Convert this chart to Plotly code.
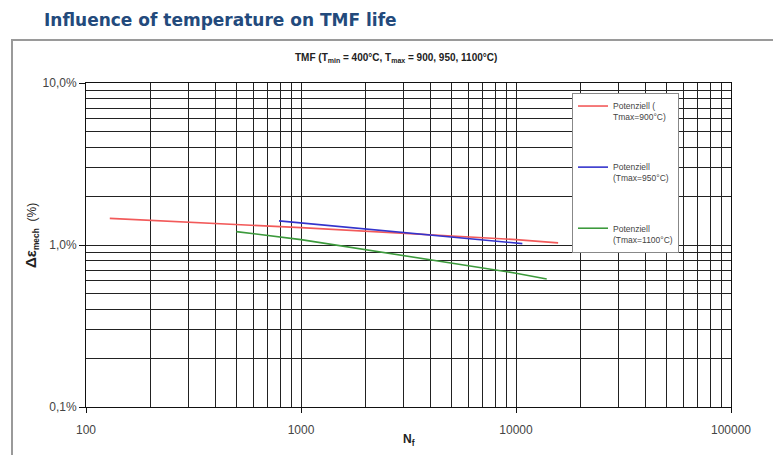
import plotly.graph_objects as go

# ---- data ----
red_x = [129, 1000, 10000, 15700]
red_y = [1.46, 1.28, 1.08, 1.03]
blue_x = [790, 1000, 10700]
blue_y = [1.41, 1.37, 1.02]
green_x = [500, 1000, 10000, 13900]
green_y = [1.21, 1.08, 0.67, 0.617]

names = ["Potenziell (<br>Tmax=900°C)", "Potenziell<br>(Tmax=950°C)", "Potenziell<br>(Tmax=1100°C)"]
colors = ["#f25a5a", "#3434cc", "#3c9a3c"]

x_tickvals = [100, 1000, 10000, 100000]
x_ticktext = ["100", "1000", "10000", "100000"]
y_tickvals = [0.1, 1, 10]
y_ticktext = ["0,1%", "1,0%", "10,0%"]

FONT = "Arial, Liberation Sans, sans-serif"

fig = go.Figure()
for i, (xs, ys) in enumerate([(red_x, red_y), (blue_x, blue_y), (green_x, green_y)]):
    fig.add_trace(go.Scatter(x=xs, y=ys, mode="lines", name=names[i],
                             line=dict(color=colors[i], width=1.6),
                             legendgroup=f"g{i}"))

W, H = 773, 455
L, R, T, B = 86, 42, 83, 48
pw, ph = W - L - R, H - T - B

grid = "#222222"
fig.update_layout(
    width=W, height=H,
    margin=dict(l=L, r=R, t=T, b=B),
    paper_bgcolor="white", plot_bgcolor="white",
    font=dict(family=FONT, color="#333333"),
    showlegend=True,
    legend=dict(x=(572 - L) / pw, y=(H - B - 93) / ph, xanchor="left", yanchor="top",
                bgcolor="white", bordercolor="#888888", borderwidth=1,
                font=dict(size=8.5, color="#444444", family=FONT),
                traceorder="grouped", tracegroupgap=36, valign="top",
                itemwidth=30, entrywidth=112, entrywidthmode="pixels"),
    xaxis=dict(type="log", range=[2, 5], tickvals=x_tickvals, ticktext=x_ticktext,
               showgrid=True, gridcolor=grid, gridwidth=1,
               minor=dict(dtick="D1", showgrid=True, gridcolor=grid, gridwidth=1, ticks=""),
               showline=True, linecolor="#111111", linewidth=1, mirror=True,
               ticks="outside", ticklen=5, tickcolor="#111111",
               tickfont=dict(size=12, color="#444444"), ticklabelstandoff=7, zeroline=False),
    yaxis=dict(type="log", range=[-1, 1], tickvals=y_tickvals, ticktext=y_ticktext,
               showgrid=True, gridcolor=grid, gridwidth=1,
               minor=dict(dtick="D1", showgrid=True, gridcolor=grid, gridwidth=1, ticks=""),
               showline=True, linecolor="#111111", linewidth=1, mirror=True,
               ticks="outside", ticklen=6, tickcolor="#111111",
               tickfont=dict(size=12, color="#444444"), zeroline=False),
)

# outer frame
fig.add_shape(type="rect", xref="paper", yref="paper",
              x0=(12 - L) / pw, x1=(W + 20 - L) / pw,
              y0=(H - B - (H + 20)) / ph, y1=(H - B - 40) / ph,
              line=dict(color="#9a9a9a", width=2), fillcolor="rgba(0,0,0,0)", layer="below")

def ann(text, px, py, size, color="#222222", bold=False, xanchor="center", angle=0, yanchor="middle", family=FONT):
    fig.add_annotation(text=f"<b>{text}</b>" if bold else text,
                       xref="paper", yref="paper",
                       x=(px - L) / pw, y=(H - B - py) / ph,
                       xanchor=xanchor, yanchor=yanchor, textangle=angle,
                       showarrow=False, font=dict(size=size, color=color, family=family))

ann("Influence of temperature on TMF life", 42, 20, 17, color="#234a7c", bold=True, xanchor="left",
    family="DejaVu Sans, Verdana, sans-serif")
ann("TMF (T<sub>min</sub> = 400°C, T<sub>max</sub> = 900, 950, 1100°C)", 396, 58, 10, color="#222222", bold=True)
ann("<b><span style='font-size:15px'>Δε</span></b><sub><b>mech</b></sub>  (%)", 31, 236, 12, color="#222222", angle=-90)
ann("N<sub>f</sub>", 409, 440, 12, color="#222222", bold=True)

fig.write_html("out.html")
